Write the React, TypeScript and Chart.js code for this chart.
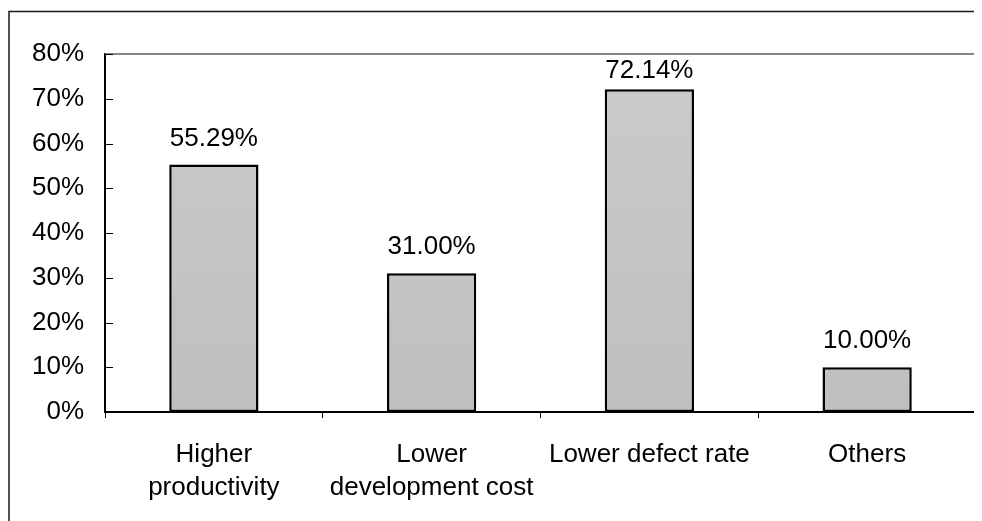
import React, { useEffect, useRef } from "react";
import { Chart, registerables } from "chart.js";

Chart.register(...registerables);

const categories: string[][] = [
  ["Higher", "productivity"],
  ["Lower", "development cost"],
  ["Lower defect rate"],
  ["Others"],
];
const values: number[] = [55.29, 31.0, 72.14, 10.0];
const yMin = 0;
const yMax = 80;
const yStep = 10;

const FONT = "'Liberation Sans', Arial, sans-serif";

const framePlugin = {
  id: "frame",
  beforeDraw(chart: any) {
    const ctx = chart.ctx;
    ctx.save();
    ctx.strokeStyle = "#1a1a1a";
    ctx.lineWidth = 1.5;
    ctx.beginPath();
    ctx.moveTo(1, chart.height);
    ctx.lineTo(1, 3.5);
    ctx.lineTo(chart.width, 3.5);
    ctx.stroke();
    ctx.restore();
  },
  afterDraw(chart: any) {
    const ctx = chart.ctx;
    const a = chart.chartArea;
    const y = chart.scales.y;
    ctx.save();
    ctx.strokeStyle = "#868686";
    ctx.lineWidth = 2;
    ctx.beginPath();
    ctx.moveTo(a.left, a.top);
    ctx.lineTo(a.right, a.top);
    ctx.lineTo(a.right, a.bottom + 3);
    ctx.stroke();
    // inward y ticks
    ctx.strokeStyle = "#000";
    ctx.lineWidth = 1;
    y.ticks.forEach((t: any) => {
      const py = Math.round(y.getPixelForValue(t.value)) + 0.5;
      ctx.beginPath();
      ctx.moveTo(a.left, py);
      ctx.lineTo(a.left + 8, py);
      ctx.stroke();
    });
    ctx.restore();
  },
};

const labelPlugin = {
  id: "barLabels",
  afterDatasetsDraw(chart: any) {
    const ctx = chart.ctx;
    const a = chart.chartArea;
    const meta = chart.getDatasetMeta(0);
    ctx.save();
    ctx.font = `26px ${FONT}`;
    ctx.fillStyle = "#000";
    ctx.textAlign = "center";
    ctx.textBaseline = "alphabetic";
    meta.data.forEach((bar: any, i: number) => {
      const yy = Math.max(bar.y - 19, a.top + 24);
      ctx.fillText(values[i].toFixed(2) + "%", bar.x, yy);
    });
    ctx.restore();
  },
};

export default function App() {
  const ref = useRef<HTMLCanvasElement>(null);
  useEffect(() => {
    if (!ref.current) return;
    const chart = new Chart(ref.current, {
      type: "bar",
      data: {
        labels: categories,
        datasets: [
          {
            data: values,
            backgroundColor: (c: any) => {
              const a = c.chart.chartArea;
              if (!a) return "#c6c6c6";
              const g = c.chart.ctx.createLinearGradient(0, a.top, 0, a.bottom);
              g.addColorStop(0, "#cbcbcb");
              g.addColorStop(1, "#bfbfbf");
              return g;
            },
            borderColor: "#000",
            borderWidth: 2.5,
            borderSkipped: false,
            barPercentage: 0.41,
            categoryPercentage: 1,
          },
        ],
      },
      options: {
        animation: false,
        responsive: false,
        maintainAspectRatio: false,
        layout: { padding: { top: 46, right: 6, left: 0, bottom: 0 } },
        plugins: {
          legend: { display: false },
          tooltip: { enabled: false },
          title: { display: false },
        },
        scales: {
          x: {
            offset: true,
            afterFit: (s: any) => {
              s.height = 109;
            },
            grid: {
              display: true,
              offset: true,
              drawOnChartArea: false,
              drawTicks: true,
              tickLength: 6,
              color: "#000",
              lineWidth: 1,
            },
            border: { display: true, color: "#000", width: 2 },
            ticks: {
              color: "#000",
              font: { family: FONT, size: 26, lineHeight: 1.28 },
              padding: 20,
              maxRotation: 0,
              autoSkip: false,
            },
          },
          y: {
            min: yMin,
            max: yMax,
            afterFit: (s: any) => {
              s.width = 97;
            },
            grid: { display: false, drawTicks: false },
            border: { display: true, color: "#000", width: 2 },
            ticks: {
              stepSize: yStep,
              color: "#000",
              font: { family: FONT, size: 26 },
              padding: 21,
              callback: (v: any) => v + "%",
            },
          },
        },
      },
      plugins: [framePlugin, labelPlugin],
    });
    return () => chart.destroy();
  }, []);
  return (
    <div style={{ width: 974, height: 513 }}>
      <canvas ref={ref} width={974} height={513} style={{ display: "block" }} />
    </div>
  );
}
